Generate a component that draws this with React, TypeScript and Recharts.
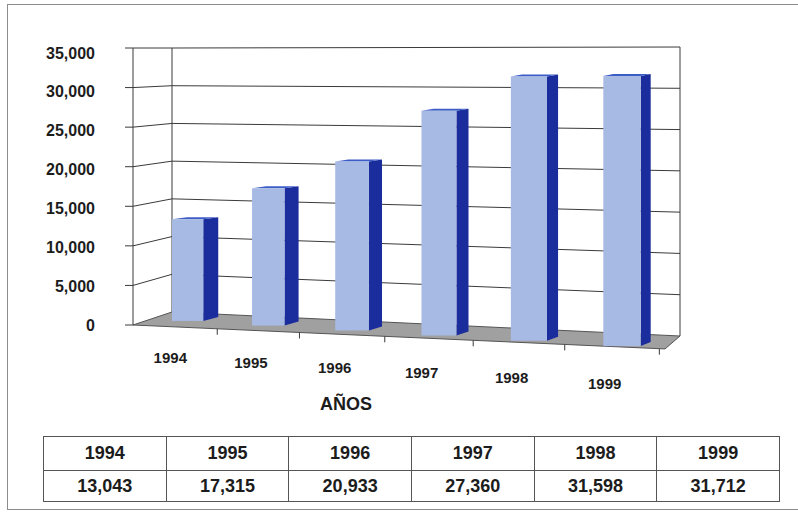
import { BarChart, Bar, XAxis, YAxis, CartesianGrid } from "recharts";

const years = ["1994", "1995", "1996", "1997", "1998", "1999"];
const totals = [13043, 17315, 20933, 27360, 31598, 31712];
const yTicks = [0, 5000, 10000, 15000, 20000, 25000, 30000, 35000];

const data = years.map((year, i) => ({ year, total: totals[i] }));

// flat plot box handed to recharts (front plane of the bars)
const CHART_W = 798;
const CHART_H = 420;
const PLOT_LEFT = 148;
const PLOT_RIGHT = 619;
const PLOT_TOP = 48;
const PLOT_BOTTOM = 320;
const BAND = (PLOT_RIGHT - PLOT_LEFT) / years.length;

// corners of the fake 3d box
const FRONT_X = 133;
const WALL_X = 172;
const RIGHT_X = 680;
const FLOOR_FRONT_RIGHT_X = 665;

const FONT = "'Liberation Sans', Arial, sans-serif";
const INK = "#1c1c1c";
const LINE = "#3a3a3a";

const fmt = (n: number) => n.toLocaleString("en-US");

// perspective helpers, applied on top of the recharts scale output
const warpX = (x: number) => {
  const t = x - WALL_X;
  return WALL_X + t + 0.000252 * t * t;
};
const floorAt = (x: number) => 320 + 0.058 * (x - WALL_X);
const growAt = (x: number) => 1 + 0.000213 * (x - WALL_X);
const frontEdgeY = (x: number) => 325 + 0.045 * (x - FRONT_X);
const share = (y: number) => (PLOT_BOTTOM - y) / (PLOT_BOTTOM - PLOT_TOP);
const frontY = (r: number) => 48 + (1 - r) * 277;
const wallLeftY = (r: number) => 48 + (1 - r) * 264;
const wallRightY = (r: number) => 47 + (1 - r) * 289;

function Bar3D(props: any) {
  const { x, width, height } = props;
  const xl = warpX(x);
  const xr = warpX(x + width);
  const xc = (xl + xr) / 2;
  const yb = floorAt(xc);
  const yt = yb - height * growAt(xc);
  const d = Math.max(8, 15 - 0.0115 * (xc - 187));
  return (
    <g>
      <polygon
        points={`${xr},${yb} ${xr},${yt} ${xr + d},${yt - 2} ${xr + d},${yb - 4}`}
        fill="#1b2c9c"
      />
      <polygon
        points={`${xl},${yt} ${xr},${yt} ${xr + d},${yt - 2} ${xl + d},${yt - 2}`}
        fill="#3c5cc6"
      />
      <rect x={xl} y={yt} width={xr - xl} height={yb - yt} fill="#a7bae3" />
    </g>
  );
}

function WallLine(props: any) {
  const r = share(props.y1);
  const fy = frontY(r);
  const key = `wall-${props.index}`;
  const tick = <line x1={FRONT_X - 8} y1={fy} x2={FRONT_X} y2={fy} stroke={LINE} />;

  if (r < 0.001) {
    const pts = [
      [FRONT_X, fy],
      [WALL_X, wallLeftY(0)],
      [RIGHT_X, wallRightY(0)],
      [FLOOR_FRONT_RIGHT_X, frontEdgeY(FLOOR_FRONT_RIGHT_X)],
    ]
      .map((p) => p.join(","))
      .join(" ");
    return (
      <g key={key}>
        <polygon points={pts} fill="#a0a0a0" stroke="#555" strokeWidth={1} />
        {tick}
      </g>
    );
  }

  return (
    <g key={key}>
      {r > 0.999 && (
        <>
          <line x1={FRONT_X} y1={fy} x2={FRONT_X} y2={frontY(0)} stroke={LINE} />
          <line x1={WALL_X} y1={wallLeftY(1)} x2={WALL_X} y2={wallLeftY(0)} stroke={LINE} />
          <line x1={RIGHT_X} y1={wallRightY(1)} x2={RIGHT_X} y2={wallRightY(0)} stroke={LINE} />
        </>
      )}
      {tick}
      <line x1={FRONT_X} y1={fy} x2={WALL_X} y2={wallLeftY(r)} stroke={LINE} />
      <line x1={WALL_X} y1={wallLeftY(r)} x2={RIGHT_X} y2={wallRightY(r)} stroke={LINE} />
    </g>
  );
}

function YearTick(props: any) {
  const { x, payload } = props;
  const xs = warpX(x);
  const bx = warpX(x + BAND / 2) - 10;
  const by = frontEdgeY(bx);
  return (
    <g>
      <line x1={bx} y1={by} x2={bx} y2={by + 6} stroke={LINE} />
      <text
        x={xs - 17}
        y={floorAt(xs) + 37}
        textAnchor="middle"
        dominantBaseline="central"
        fontFamily={FONT}
        fontWeight="bold"
        fontSize={15}
        fill={INK}
      >
        {payload.value}
      </text>
    </g>
  );
}

function ValueTick(props: any) {
  const { y, payload } = props;
  const r = share(y);
  return (
    <text
      x={95}
      y={53 + (1 - r) * 272}
      textAnchor="end"
      dominantBaseline="central"
      fontFamily={FONT}
      fontWeight="bold"
      fontSize={16}
      fill={INK}
    >
      {fmt(payload.value)}
    </text>
  );
}

const cell: React.CSSProperties = {
  border: "1px solid #555",
  textAlign: "center",
  fontFamily: FONT,
  fontWeight: "bold",
  fontSize: 18,
  color: INK,
  padding: 0,
};

export default function App() {
  return (
    <div
      style={{
        position: "absolute",
        left: 0,
        top: 0,
        width: 798,
        height: 514,
        background: "#fff",
        overflow: "hidden",
      }}
    >
      {/* scanned page frame */}
      <div
        style={{
          position: "absolute",
          left: 7,
          top: 4,
          width: 820,
          height: 504,
          borderLeft: "1px solid #8c8c8c",
          borderTop: "1px solid #8c8c8c",
          borderBottom: "1px solid #8c8c8c",
        }}
      />

      <div style={{ position: "absolute", left: 0, top: 0 }}>
        <BarChart
          width={CHART_W}
          height={CHART_H}
          data={data}
          margin={{ top: PLOT_TOP, right: CHART_W - PLOT_RIGHT, bottom: CHART_H - PLOT_BOTTOM - 60, left: 0 }}
        >
          <CartesianGrid vertical={false} horizontal={(p: any) => <WallLine {...p} />} />
          <XAxis
            dataKey="year"
            height={60}
            interval={0}
            axisLine={false}
            tickLine={false}
            tick={(p: any) => <YearTick {...p} />}
            label={{
              value: "AÑOS",
              content: () => (
                <text
                  x={346}
                  y={404}
                  textAnchor="middle"
                  dominantBaseline="central"
                  fontFamily={FONT}
                  fontWeight="bold"
                  fontSize={18}
                  fill={INK}
                >
                  AÑOS
                </text>
              ),
            }}
          />
          <YAxis
            width={PLOT_LEFT}
            domain={[0, 35000]}
            ticks={yTicks}
            interval={0}
            axisLine={false}
            tickLine={false}
            tick={(p: any) => <ValueTick {...p} />}
          />
          <Bar
            dataKey="total"
            barSize={31}
            isAnimationActive={false}
            shape={(p: any) => <Bar3D {...p} />}
          />
        </BarChart>
      </div>

      <table
        style={{
          position: "absolute",
          left: 43,
          top: 436,
          width: 737,
          borderCollapse: "collapse",
          tableLayout: "fixed",
        }}
      >
        <tbody>
          <tr style={{ height: 34 }}>
            {years.map((y) => (
              <td key={y} style={cell}>
                {y}
              </td>
            ))}
          </tr>
          <tr style={{ height: 31 }}>
            {totals.map((v, i) => (
              <td key={years[i]} style={cell}>
                {fmt(v)}
              </td>
            ))}
          </tr>
        </tbody>
      </table>
    </div>
  );
}
